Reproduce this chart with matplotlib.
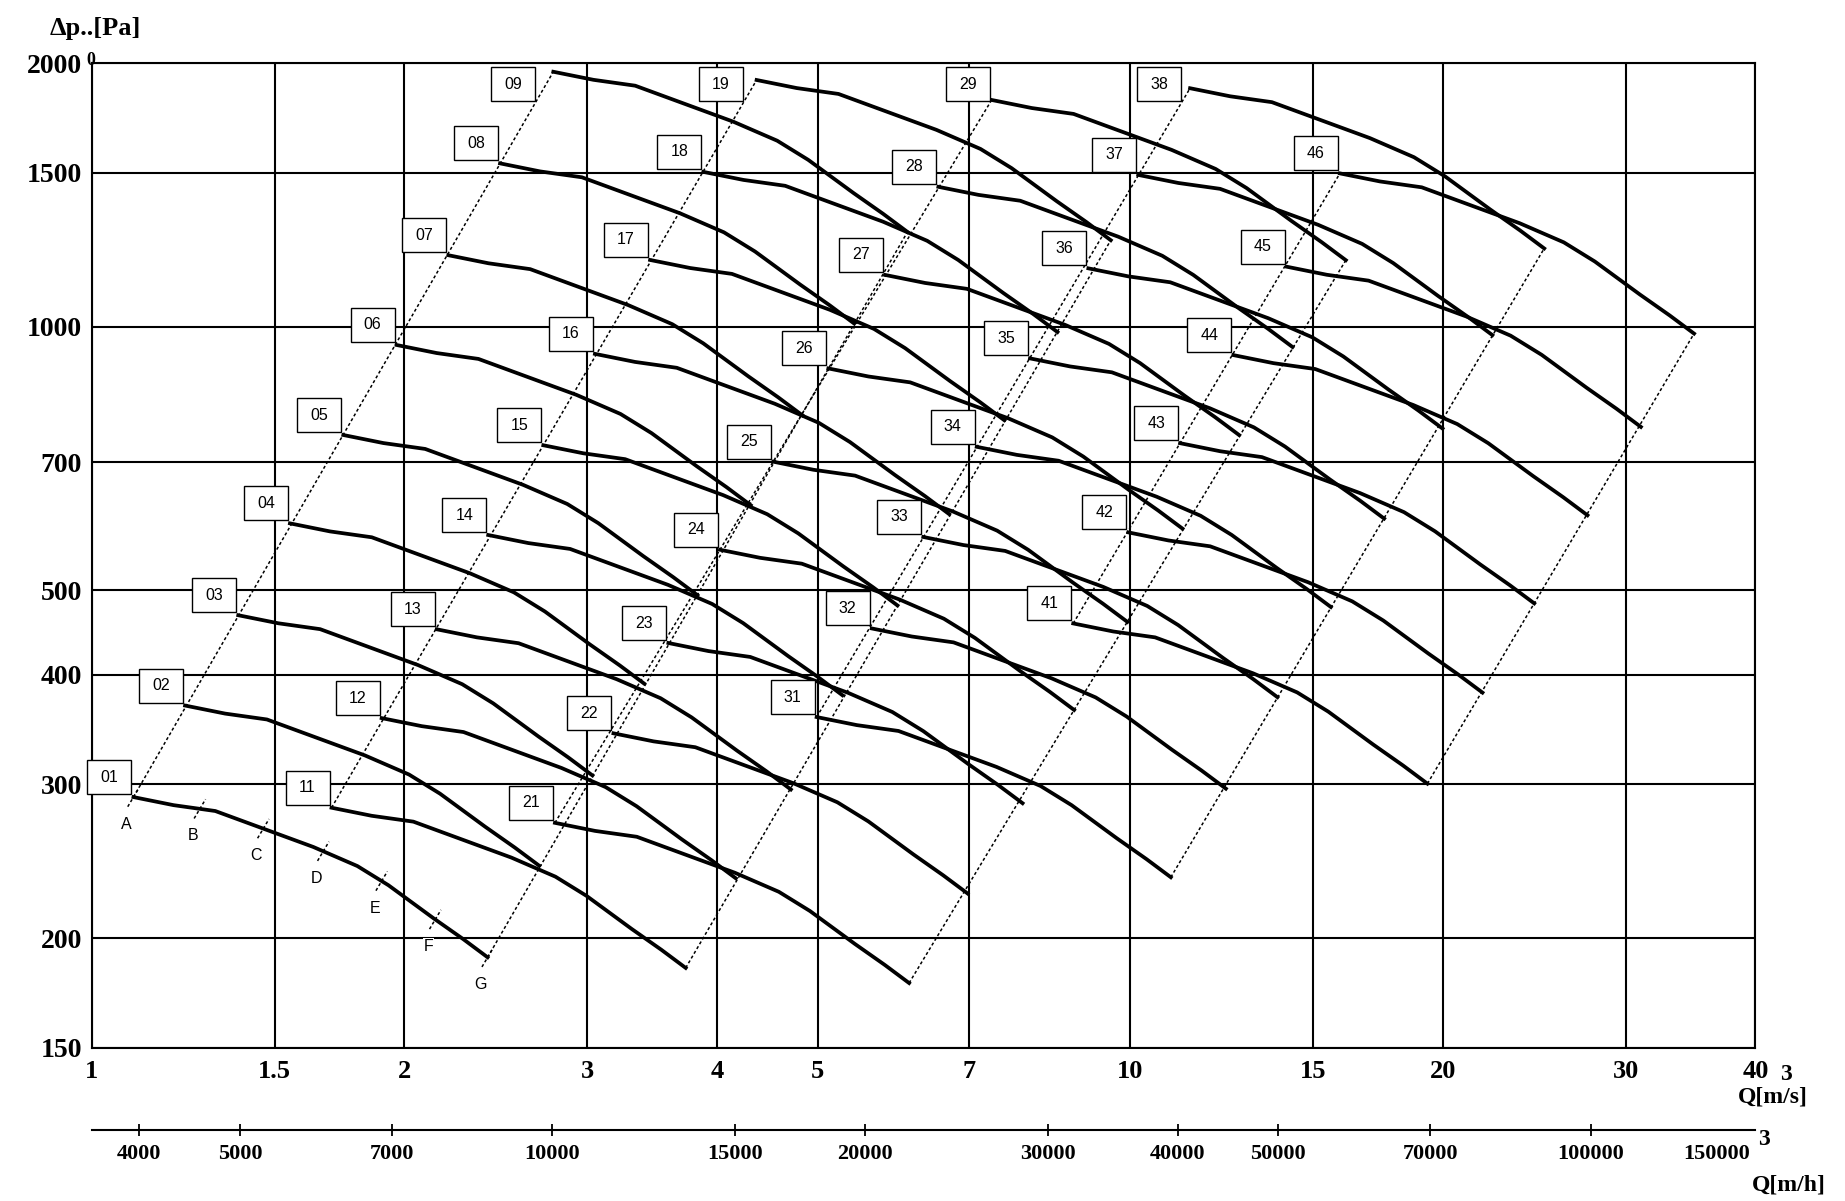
import numpy as np
import matplotlib.pyplot as plt
from matplotlib.patches import Rectangle
from matplotlib.transforms import IdentityTransform

W, H = 1845, 1201

# axis ticks
x_ticks = [1, 1.5, 2, 3, 4, 5, 7, 10, 15, 20, 30, 40]
x_labels = ["1", "1.5", "2", "3", "4", "5", "7", "10", "15", "20", "30", "40"]
y_ticks = [150, 200, 300, 400, 500, 700, 1000, 1500, 2000]
h_ticks = [4000, 5000, 7000, 10000, 15000, 20000, 30000, 40000, 50000, 70000, 100000]
h_last = "150000"

q_rel = [1.000, 1.093, 1.199, 1.355, 1.490, 1.643, 1.760, 1.945, 2.078, 2.193]
p_rel = [1.000, 0.979, 0.964, 0.914, 0.877, 0.834, 0.793, 0.727, 0.688, 0.656]

# first point of every curve: Q [m3/s], dp [Pa]
curve_names = ["01", "02", "03", "04", "05", "06", "07", "08", "09",
               "11", "12", "13", "14", "15", "16", "17", "18", "19",
               "21", "22", "23", "24", "25", "26", "27", "28", "29",
               "31", "32", "33", "34", "35", "36", "37", "38",
               "41", "42", "43", "44", "45", "46"]
q_start = [1.097, 1.230, 1.384, 1.552, 1.747, 1.966, 2.205, 2.473, 2.783,
           1.702, 1.902, 2.149, 2.409, 2.722, 3.052, 3.449, 3.881, 4.368,
           2.793, 3.180, 3.592, 4.027, 4.532, 5.121, 5.807, 6.536, 7.356,
           4.990, 5.638, 6.321, 7.116, 8.008, 9.115, 10.18, 11.42,
           8.814, 9.959, 11.17, 12.57, 14.15, 15.92]
p_start = [290, 369, 468, 596, 752, 953, 1207, 1537, 1956,
           282, 357, 451, 578, 732, 931, 1192, 1503, 1914,
           271, 343, 435, 556, 701, 896, 1146, 1445, 1816,
           358, 452, 575, 729, 920, 1166, 1491, 1873,
           458, 582, 736, 928, 1171, 1497]

# marks on curve 01
mark_names = ["A", "B", "C", "D", "E", "F", "G"]
mark_q = [1.097, 1.271, 1.463, 1.671, 1.902, 2.142, 2.406]

serif = "Liberation Serif"

fig = plt.figure(figsize=(W / 100, H / 100), dpi=100)
ax = fig.add_axes([91.7 / W, 1 - 1047.6 / H, (1755.4 - 91.7) / W, (1047.6 - 63.3) / H])
ax.set_xscale("log")
ax.set_yscale("log")
ax.set_xlim(1, 40)
ax.set_ylim(150, 2000)
ax.set_xticks(x_ticks, x_labels)
ax.set_xticks([], minor=True)
ax.set_yticks(y_ticks, [str(v) for v in y_ticks])
ax.set_yticks([], minor=True)
ax.tick_params(axis="both", length=0)
ax.tick_params(axis="x", pad=9)
ax.tick_params(axis="y", pad=7)
for lab in ax.get_xticklabels():
    lab.set_fontname(serif)
    lab.set_fontweight("bold")
    lab.set_fontsize(19)
for lab in ax.get_yticklabels():
    lab.set_fontname(serif)
    lab.set_fontweight("bold")
    lab.set_fontsize(20)
ax.grid(True, color="black", lw=1.5)
ax.set_axisbelow(True)
for sp in ax.spines.values():
    sp.set_linewidth(1.5)

dash = dict(color="black", lw=1.1, linestyle=(0, (2, 1.6)), zorder=2.5)

# curves
ends = []
for q0, p0 in zip(q_start, p_start):
    q = q0 * np.array(q_rel)
    p = p0 * np.array(p_rel)
    ax.plot(q, p, color="black", lw=2.7, zorder=3, solid_joinstyle="round")
    ends.append((q[-1], p[-1]))

# boundary lines of each family
for fam in "01234":
    idx = [i for i, n in enumerate(curve_names) if n[0] == fam]
    a, b = idx[0], idx[-1]
    ax.plot([q_start[a], q_start[b]], [p_start[a], p_start[b]], **dash)
    ax.plot([ends[a][0], ends[b][0]], [ends[a][1], ends[b][1]], **dash)

# marks A..G on curve 01
q01 = q_start[0] * np.array(q_rel)
p01 = p_start[0] * np.array(p_rel)
h = 0.0055
for name, qm in zip(mark_names, mark_q):
    pm = 10 ** np.interp(np.log10(qm), np.log10(q01), np.log10(p01))
    ax.plot([qm / 10 ** h, qm * 10 ** h], [pm / 10 ** (2 * h), pm * 10 ** (2 * h)], **dash)
    ax.annotate(name, (qm, pm), xytext=(-5, -19.5), textcoords="offset points",
                ha="center", va="center", fontsize=11.5, fontname="Liberation Sans",
                zorder=4, bbox=dict(facecolor="white", edgecolor="none", pad=0.5))

# label boxes next to the first point of every curve
top_px = H - 63.3
bw, bh = 44, 34
for name, q0, p0 in zip(curve_names, q_start, p_start):
    sx, sy = ax.transData.transform((q0, p0))
    right = sx - 2
    bottom = sy + 3
    if bottom + bh > top_px - 4:
        bottom = top_px - 4 - bh
        if bottom < sy:
            right = sx - (sy - bottom) / 1.685 - 1
    rect = Rectangle((right - bw, bottom), bw, bh, transform=IdentityTransform(),
                     facecolor="white", edgecolor="black", lw=1.0, zorder=5)
    fig.add_artist(rect)
    fig.text((right - bw / 2) / W, (bottom + bh / 2) / H, name, ha="center", va="center",
             fontsize=11.5, fontname="Liberation Sans", zorder=6)

# second scale in m3/h
ax2 = fig.add_axes([91.7 / W, 1 - 1130 / H, (1755.4 - 91.7) / W, 0.0005])
ax2.set_xscale("log")
ax2.set_xlim(3600, 40 * 3600)
ax2.set_yticks([])
ax2.set_xticks(h_ticks, [str(v) for v in h_ticks])
ax2.set_xticks([], minor=True)
for s in ["top", "left", "right"]:
    ax2.spines[s].set_visible(False)
ax2.spines["bottom"].set_linewidth(1.5)
ax2.tick_params(axis="x", direction="inout", length=8, width=1.3, pad=6)
for lab in ax2.get_xticklabels():
    lab.set_fontname(serif)
    lab.set_fontweight("bold")
    lab.set_fontsize(16)
ax2.patch.set_visible(False)
# last label sits left of the scale end
lab0 = ax2.get_xticklabels()[0]
fig.text(1750 / W, lab0.get_window_extent(fig.canvas.get_renderer()).y0 / H, h_last,
         ha="right", va="bottom", fontsize=16, fontname=serif, fontweight="bold")

# axis titles
tfont = dict(fontname=serif, fontweight="bold")
fig.text(50 / W, 1 - 35 / H, "\u0394p..[Pa]", ha="left", va="baseline", fontsize=19, **tfont)
fig.text(91 / W, 1 - 65 / H, "0", ha="center", va="baseline", fontsize=13, **tfont)
fig.text(1738 / W, 1 - 1103 / H, "Q[m/s]", ha="left", va="baseline", fontsize=17, **tfont)
fig.text(1786 / W, 1 - 1080 / H, "3", ha="center", va="baseline", fontsize=17, **tfont)
fig.text(1752 / W, 1 - 1190 / H, "Q[m/h]", ha="left", va="baseline", fontsize=17, **tfont)
fig.text(1764 / W, 1 - 1145 / H, "3", ha="center", va="baseline", fontsize=17, **tfont)

fig.savefig("out.png", dpi=100)
